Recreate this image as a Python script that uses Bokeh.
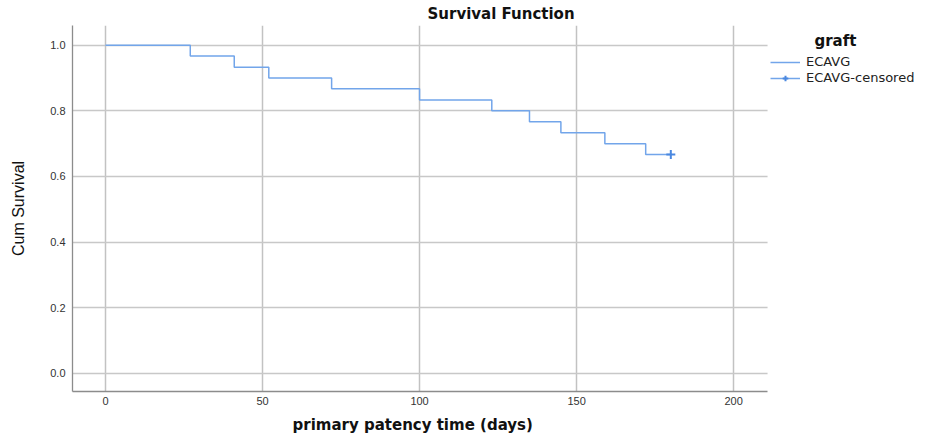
import math
from bokeh.plotting import figure
from bokeh.models import (Range1d, Legend, LegendItem, FixedTicker, ColumnDataSource,
                          Title, Label, BoxAnnotation, CustomJSTickFormatter)
from bokeh.embed import file_html
from bokeh.resources import INLINE

# ---- data ----
times = [0, 27, 41, 52, 72, 100, 123, 135, 145, 159, 172, 180]
surv = [1.0, 0.967, 0.933, 0.9, 0.867, 0.833, 0.8, 0.767, 0.733, 0.7, 0.667, 0.667]
cens_t = [180]
cens_s = [0.667]
x_ticks = [0, 50, 100, 150, 200]
y_ticks = [0.0, 0.2, 0.4, 0.6, 0.8, 1.0]
title_text = "Survival Function"
x_title = "primary patency time (days)"
y_title = "Cum Survival"
legend_title = "graft"
series_name = "ECAVG"
censor_name = "ECAVG-censored"

LINE = "#72a5ea"
MARK = "#4a88e0"
GRID = "#c8c8c8"
FONT = "Liberation Sans"
WIDE = "DejaVu Sans"

X_LO, X_HI = -10.5, 210.8      # visible axis extent
X_VIEW_HI = 263.0              # frame extends under the legend area

p = figure(width=931, height=439, output_backend="svg", toolbar_location=None,
           x_range=Range1d(X_LO, X_VIEW_HI), y_range=Range1d(-0.055, 1.06),
           min_border_left=72, min_border_right=0, min_border_top=25,
           min_border_bottom=48, title=None)
p.outline_line_color = None
p.background_fill_color = "white"

# title
p.add_layout(Title(text=title_text, align="left", offset=355, standoff=5,
                   text_font=WIDE, text_font_size="15px", text_font_style="bold",
                   text_color="#111111"), "above")

# grids
p.xgrid.ticker = FixedTicker(ticks=x_ticks)
p.ygrid.ticker = FixedTicker(ticks=y_ticks)
p.xgrid.grid_line_color = "#c2c2c2"
p.xgrid.grid_line_width = 1.5
p.ygrid.grid_line_color = GRID
p.ygrid.grid_line_width = 1.3

# blank out the area right of the axis extent (legend area)
p.add_layout(BoxAnnotation(left=X_HI, fill_color="white", fill_alpha=1.0,
                           line_color=None, level="underlay"))

# axes
p.xaxis.ticker = FixedTicker(ticks=x_ticks)
p.yaxis.ticker = FixedTicker(ticks=y_ticks)
p.xaxis.bounds = (X_LO, X_HI)
p.yaxis.formatter = CustomJSTickFormatter(code="return tick.toFixed(1);")
for ax in (p.xaxis, p.yaxis):
    ax.major_tick_out = 0
    ax.major_tick_in = 0
    ax.minor_tick_out = 0
    ax.minor_tick_in = 0
    ax.axis_line_color = "#8c8c8c"
    ax.axis_line_width = 1.3
    ax.major_label_text_font = FONT
    ax.major_label_text_font_size = "11px"
    ax.major_label_text_color = "#333333"
    ax.axis_label_text_color = "#111111"
p.xaxis.major_label_standoff = 5
p.yaxis.major_label_standoff = 7
p.yaxis.axis_label = y_title
p.yaxis.axis_label_text_font = FONT
p.yaxis.axis_label_text_font_size = "16px"
p.yaxis.axis_label_text_font_style = "normal"
p.yaxis.axis_label_standoff = 20

p.add_layout(Title(text=x_title, align="left", offset=220, standoff=12,
                   text_font=WIDE, text_font_size="15px", text_font_style="bold",
                   text_color="#111111"), "below")

# survival step line
src = ColumnDataSource(dict(t=times, s=surv))
step_r = p.step("t", "s", source=src, mode="after", line_color=LINE, line_width=1.5)
cens_r = p.scatter(cens_t, cens_s, marker="cross", size=9, line_color=MARK,
                   line_width=2)

legend = Legend(items=[LegendItem(label=series_name, renderers=[step_r]),
                       LegendItem(label=censor_name, renderers=[step_r, cens_r])],
                location=(698, 306))
legend.padding = 0
legend.margin = 0
legend.spacing = 1
legend.glyph_width = 30
legend.glyph_height = 14
legend.label_height = 14
legend.label_standoff = 6
legend.label_text_font = WIDE
legend.label_text_font_size = "13px"
legend.label_text_color = "#222222"
legend.border_line_color = None
legend.background_fill_alpha = 0
p.add_layout(legend, "center")

p.add_layout(Label(x=232.4, y=1.014, text=legend_title, text_font=WIDE,
                   text_font_size="15px", text_font_style="bold",
                   text_align="center", text_baseline="middle", text_color="#111111"))

open("out.html", "w").write(file_html(p, INLINE))
